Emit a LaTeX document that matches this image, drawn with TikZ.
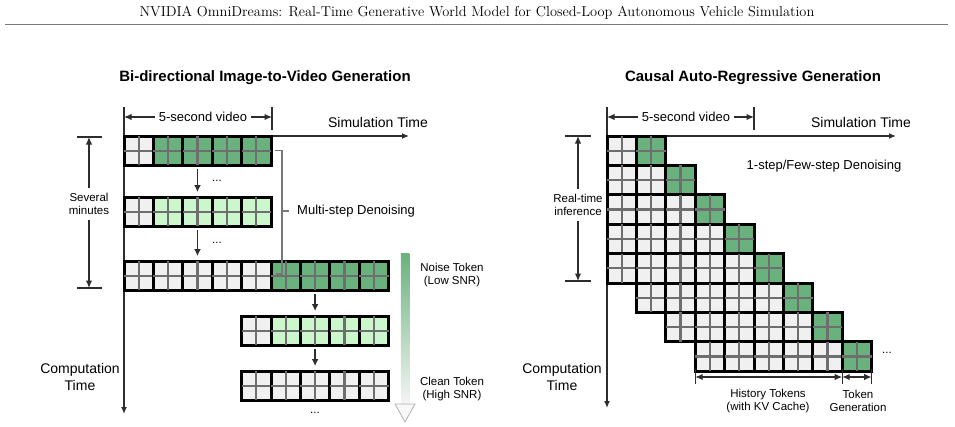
\documentclass[tikz,border=0pt]{standalone}
\usepackage{fontspec}
\setsansfont{Liberation Sans}
\usepackage{tikz}
\usetikzlibrary{calc, positioning, arrows.meta}
\definecolor{TokenGreen}{RGB}{105,178,125}
\definecolor{TokenLight}{RGB}{204,246,204}
\definecolor{TokenGrey}{RGB}{240,240,240}
\definecolor{GridGrey}{RGB}{110,110,110}
\definecolor{LineGrey}{RGB}{45,45,45}
\definecolor{darkgrey}{RGB}{120,120,120}
\def\tk{29.4}
\newcommand{\drawtoken}[3]{%
  \filldraw[fill=#3, draw=black, line width=3pt] ({#1},{#2}) rectangle ++(\tk,\tk);
  \draw[GridGrey, line width=2.2pt] ({#1},{#2+\tk/2}) -- ++(\tk,0) ({#1+\tk/2},{#2}) -- ++(0,\tk);
}

\begin{document}
\begin{tikzpicture}[
  x=1pt, y=-1pt,
  font=\sffamily,
  lbl/.style={font=\sffamily\fontsize{13}{15}\selectfont, inner sep=1pt},
  small/.style={font=\sffamily\fontsize{11.5}{13.5}\selectfont, align=center, inner sep=2pt},
  axislbl/.style={font=\sffamily\fontsize{14}{16.5}\selectfont, align=center, inner sep=1pt},
  paneltitle/.style={font=\sffamily\bfseries\fontsize{15}{18}\selectfont},
  rowbox/.style={inner sep=0pt, outer sep=0pt, minimum height=\tk pt, anchor=north west},
  axis/.style={LineGrey, line width=1.5pt, -{Latex[length=7pt,width=6pt]}},
  flow/.style={LineGrey, line width=1.5pt, -{Latex[length=7pt,width=7pt]}, shorten <=4pt, shorten >=5pt},
  dimline/.style={LineGrey, line width=1.2pt},
  dimarrow/.style={LineGrey, line width=1.2pt, -{Latex[length=7.5pt,width=6.5pt]}, shorten <=3pt},
  dimboth/.style={LineGrey, line width=1.2pt, {Latex[length=7.5pt,width=6.5pt]}-{Latex[length=7.5pt,width=6.5pt]}},
  bracket/.style={darkgrey, line width=1.2pt},
]
\useasboundingbox (0,0) rectangle (955,426);

% Page header
\node[font=\rmfamily\fontsize{14.4}{17}\selectfont, text=black] (header) at (477,13)
  {NVIDIA OmniDreams: Real-Time Generative World Model for Closed-Loop Autonomous Vehicle Simulation};
\draw[darkgrey, line width=1.6pt] (5,24.5) -- (948,24.5);

% ---------------- Left: bi-directional ----------------
\node[paneltitle] (titleL) at (265,78) {Bi-directional Image-to-Video Generation};

\coordinate (LO) at (124,136);
\coordinate (LX) at (409,136);
\coordinate (LY) at (124,414);
\draw[axis] (LO) -- (LX);
\draw[axis] (LO) -- (LY);
\node[axislbl] (simL) at (378,122) {Simulation Time};
\node[axislbl] (compL) at (80,377) {Computation\\Time};

% 5-second video
\coordinate (vidLa) at (124,107);
\coordinate (vidLb) at (272,107);
\draw[dimline] (vidLa) -- (LO);
\draw[dimline] (vidLb) -- ++(0,23);
\node[lbl] (vidL) at (203,117) {5-second video};
\draw[dimarrow] (vidL.west) -- (vidL.west -| vidLa);
\draw[dimarrow] (vidL.east) -- (vidL.east -| vidLb);

% Several minutes
\coordinate (sevT) at (89,137);
\coordinate (sevB) at (89,288);
\draw[dimline] ([xshift=-12pt]sevT) -- ([xshift=13pt]sevT);
\draw[dimline] ([xshift=-12pt]sevB) -- ([xshift=13pt]sevB);
\node[small] (sev) at (89,204) {Several\\minutes};
\draw[dimarrow] (sev.north) -- (sevT);
\draw[dimarrow] (sev.south) -- (sevB);

% Rows of tokens
\node[rowbox, minimum width=147pt] (passA) at (124,136) {};
\node[rowbox, minimum width=147pt] (passB) at (124,197) {};
\node[rowbox, minimum width=264.6pt] (passC) at (124,261) {};
\node[rowbox, minimum width=147pt] (passD) at (241.6,316) {};
\node[rowbox, minimum width=147pt] (passE) at (241.6,371) {};

\drawtoken{124}{136}{TokenGrey}
\foreach \c in {1,...,4}{\drawtoken{124+\c*\tk}{136}{TokenGreen}}
\drawtoken{124}{197}{TokenGrey}
\foreach \c in {1,...,4}{\drawtoken{124+\c*\tk}{197}{TokenLight}}
\foreach \c in {0,...,4}{\drawtoken{124+\c*\tk}{261}{TokenGrey}}
\foreach \c in {5,...,8}{\drawtoken{124+\c*\tk}{261}{TokenGreen}}
\drawtoken{241.6}{316}{TokenGrey}
\foreach \c in {1,...,4}{\drawtoken{241.6+\c*\tk}{316}{TokenLight}}
\foreach \c in {0,...,4}{\drawtoken{241.6+\c*\tk}{371}{TokenGrey}}

\draw[flow] (passA.south) -- (passB.north);
\draw[flow] (passB.south) -- (passC.north -| passB.south);
\draw[flow] (passC.south -| passD.north) -- (passD.north);
\draw[flow] (passD.south) -- (passE.north);
\node[small] (dotsA) at (217,181) {...};
\node[small] (dotsB) at (217,243) {...};
\node[small] (dotsC) at (315,413) {...};

% Multi-step bracket
\coordinate (mstep) at (276,274);
\draw[bracket] ([xshift=4pt]passA.east) -- ++(7,0) |- (mstep);
\node[lbl, anchor=west] (msd) at (296,211) {Multi-step Denoising};
\draw[bracket] ([xshift=-7pt]msd.west) -- ++(-7,0);

% Noise level arrow
\shade[top color=TokenGreen, bottom color=TokenGrey!70] (400.8,253) rectangle (409.4,404);
\filldraw[fill=TokenGrey!50, draw=gray!60, line width=0.8pt] (395,404) -- (415,404) -- (405,422) -- cycle;
\node[small] (noise) at (452,275) {Noise Token\\(Low SNR)};
\node[small] (clean) at (452,389) {Clean Token\\(High SNR)};

% ---------------- Right: causal auto-regressive ----------------
\node[paneltitle] (titleR) at (753,78) {Causal Auto-Regressive Generation};

\coordinate (RO) at (607,136);
\coordinate (RX) at (896,136);
\coordinate (RY) at (607,408);
\draw[axis] (RO) -- (RX);
\draw[axis] (RO) -- (RY);
\node[axislbl] (simR) at (861,122) {Simulation Time};
\node[axislbl] (compR) at (562,377) {Computation\\Time};

% 5-second video
\coordinate (vidRa) at (607,107);
\coordinate (vidRb) at (754,107);
\draw[dimline] (vidRa) -- (RO);
\draw[dimline] (vidRb) -- ++(0,23);
\node[lbl] (vidR) at (686,117) {5-second video};
\draw[dimarrow] (vidR.west) -- (vidR.west -| vidRa);
\draw[dimarrow] (vidR.east) -- (vidR.east -| vidRb);

% Real-time inference
\coordinate (rtT) at (578,136);
\coordinate (rtB) at (578,281);
\draw[dimline] ([xshift=-13pt]rtT) -- ([xshift=13pt]rtT);
\draw[dimline] ([xshift=-13pt]rtB) -- ([xshift=13pt]rtB);
\node[small] (rt) at (578,205) {Real-time\\inference};
\draw[dimarrow] (rt.north) -- (rtT);
\draw[dimarrow] (rt.south) -- (rtB);

\node[lbl] (fewstep) at (824,166) {1-step/Few-step Denoising};

% Staircase of tokens
\foreach \r in {0,...,7}{
  \pgfmathtruncatemacro{\s}{max(0,\r-4)}
  \foreach \c in {\s,...,\r}{\drawtoken{607+\c*\tk}{136+\r*\tk}{TokenGrey}}
  \drawtoken{607+(\r+1)*\tk}{136+\r*\tk}{TokenGreen}
}
\node[small] (dotsR) at (887,353) {...};

% History / generation
\coordinate (hL) at (695.2,377);
\coordinate (hM) at (842.2,377);
\coordinate (hR) at (871.6,377);
\foreach \p in {hL,hM,hR}{\draw[dimline] ([yshift=8pt]\p) -- ([yshift=-7pt]\p);}
\draw[dimboth] (hL) -- (hM);
\draw[dimboth] (hM) -- (hR);
\node[small] (hist) at (768,401) {History Tokens\\(with KV Cache)};
\node[small] (gen) at (858,401) {Token\\Generation};

\end{tikzpicture}
\end{document}
